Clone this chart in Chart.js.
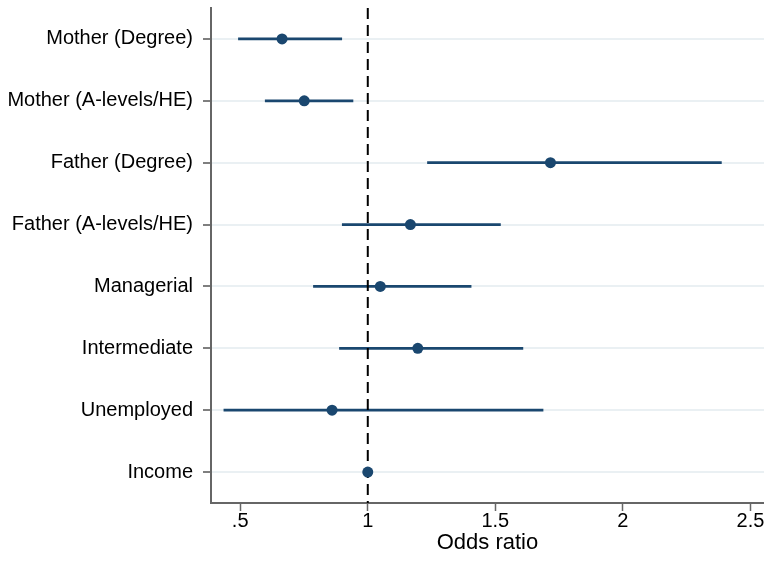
<!DOCTYPE html>
<html>
<head>
<meta charset="utf-8">
<script src="https://cdn.jsdelivr.net/npm/chart.js@4"></script>
<style>
  html, body { margin: 0; padding: 0; background: #fff; }
  #wrap { width: 764px; height: 573px; position: relative; }
</style>
</head>
<body>
<div id="wrap"><canvas id="forest"></canvas></div>
<script>
const labels = ['Mother (Degree)', 'Mother (A-levels/HE)', 'Father (Degree)', 'Father (A-levels/HE)',
  'Managerial', 'Intermediate', 'Unemployed', 'Income'];
const oddsRatio = [0.664, 0.751, 1.716, 1.167, 1.049, 1.196, 0.860, 1.000];
const ciLow  = [0.493, 0.598, 1.234, 0.900, 0.787, 0.889, 0.436, 0.996];
const ciHigh = [0.898, 0.942, 2.386, 1.520, 1.405, 1.608, 1.687, 1.004];
const xTicks = [0.5, 1, 1.5, 2, 2.5];
const xTickLabels = ['.5', '1', '1.5', '2', '2.5'];
const refLine = 1;

const navy = '#1a476f';
const font = { family: 'Liberation Sans, Arial, Helvetica, sans-serif', size: 20 };

const refLinePlugin = {
  id: 'refLine',
  afterDatasetDraw(chart, args) {
    if (args.index !== 0) return;
    const { ctx, chartArea, scales } = chart;
    const x = scales.x.getPixelForValue(refLine);
    ctx.save();
    ctx.strokeStyle = '#000';
    ctx.lineWidth = 2;
    ctx.setLineDash([11, 6]);
    ctx.beginPath();
    ctx.moveTo(x, chartArea.top);
    ctx.lineTo(x, chartArea.bottom);
    ctx.stroke();
    ctx.restore();
  }
};

new Chart(document.getElementById('forest'), {
  type: 'bar',
  data: {
    labels: labels,
    datasets: [
      {
        type: 'bar',
        data: labels.map((_, i) => [ciLow[i], ciHigh[i]]),
        backgroundColor: navy,
        barThickness: 2,
        order: 2
      },
      {
        type: 'line',
        indexAxis: 'y',
        data: oddsRatio,
        showLine: false,
        pointRadius: 5.5,
        pointBackgroundColor: navy,
        pointBorderColor: navy,
        pointBorderWidth: 0,
        order: 1
      }
    ]
  },
  plugins: [refLinePlugin],
  options: {
    indexAxis: 'y',
    responsive: true,
    maintainAspectRatio: false,
    animation: false,
    layout: { autoPadding: false, padding: { top: 8, right: 0, bottom: 0, left: 0 } },
    plugins: { legend: { display: false }, tooltip: { enabled: false } },
    scales: {
      x: {
        type: 'linear',
        min: 0.3855,
        max: 2.553,
        afterBuildTicks(scale) { scale.ticks = xTicks.map(v => ({ value: v })); },
        afterFit(scale) {
          scale.height = 70;
          scale.paddingLeft = 0;
          scale.paddingRight = 0;
        },
        border: { color: '#666', width: 2 },
        grid: { drawOnChartArea: false, drawTicks: true, tickLength: 8, tickColor: '#666', tickWidth: 1.5 },
        ticks: {
          color: '#000', font: font, padding: -2, maxRotation: 0, autoSkip: false,
          callback: (v) => xTickLabels[xTicks.indexOf(v)]
        },
        title: {
          display: true, text: 'Odds ratio', color: '#000',
          font: { family: font.family, size: 22 }, padding: { top: 0, bottom: 17 }
        }
      },
      y: {
        type: 'category',
        offset: true,
        afterFit(scale) {
          scale.width = 211;
          scale.paddingTop = 0;
          scale.paddingBottom = 0;
        },
        border: { color: '#666', width: 2 },
        grid: { offset: false, color: '#eaf0f3', lineWidth: 2, drawTicks: true, tickLength: 8, tickColor: '#555', tickWidth: 1.5 },
        ticks: { color: '#000', font: font, padding: 10, autoSkip: false }
      }
    }
  }
});
</script>
</body>
</html>
